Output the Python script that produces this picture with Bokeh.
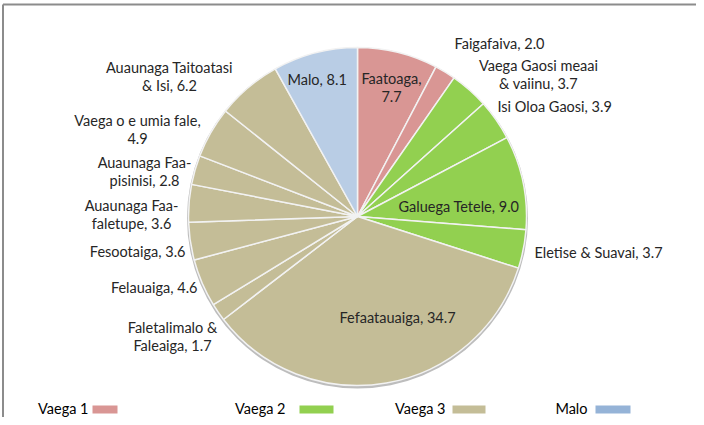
import math
from bokeh.plotting import figure
from bokeh.models import Range1d, ColumnDataSource
from bokeh.core.properties import value
from bokeh.embed import file_html
from bokeh.resources import INLINE

# ---- data ----
categories = ["Faatoaga", "Faigafaiva", "Vaega Gaosi meaai & vaiinu", "Isi Oloa Gaosi",
              "Galuega Tetele", "Eletise & Suavai", "Fefaatauaiga", "Faletalimalo & Faleaiga",
              "Felauaiga", "Fesootaiga", "Auaunaga Faa-faletupe", "Auaunaga Faa-pisinisi",
              "Vaega o e umia fale", "Auaunaga Taitoatasi & Isi", "Malo"]
values = [7.7, 2.0, 3.7, 3.9, 9.0, 3.7, 34.7, 1.7, 4.6, 3.6, 3.6, 2.8, 4.9, 6.2, 8.1]
groups = ["Vaega 1", "Vaega 1", "Vaega 2", "Vaega 2", "Vaega 2", "Vaega 2", "Vaega 3", "Vaega 3",
          "Vaega 3", "Vaega 3", "Vaega 3", "Vaega 3", "Vaega 3", "Vaega 3", "Malo"]
label_texts = ["Faatoaga,\n7.7", "Faigafaiva, 2.0", "Vaega Gaosi meaai\n& vaiinu, 3.7",
               "Isi Oloa Gaosi, 3.9", "Galuega Tetele, 9.0", "Eletise & Suavai, 3.7",
               "Fefaatauaiga, 34.7", "Faletalimalo &\nFaleaiga, 1.7", "Felauaiga, 4.6",
               "Fesootaiga, 3.6", "Auaunaga Faa-\nfaletupe, 3.6", "Auaunaga Faa-\npisinisi, 2.8",
               "Vaega o e umia fale,\n4.9", "Auaunaga Taitoatasi\n& Isi, 6.2", "Malo, 8.1"]
legend_names = ["Vaega 1", "Vaega 2", "Vaega 3", "Malo"]

# ---- styles / layout ----
slice_colors = {"Vaega 1": "#D99694", "Vaega 2": "#92D050", "Vaega 3": "#C4BD97", "Malo": "#B9CDE5"}
legend_colors = {"Vaega 1": "#D99694", "Vaega 2": "#92D050", "Vaega 3": "#C4BD97", "Malo": "#95B3D7"}
FONT = "Lato"
FS = "14.5px"
W, H = 696, 417
def Y(sy):
    return H - sy

cx, cy, R = 357, Y(216), 169

# label layout (screen px: anchor x, center y of first line, align)
label_pos = [(391, 78, "center"), (454, 43, "left"), (538, 65, "center"), (497, 106, "left"),
             (398, 206, "left"), (534, 252, "left"), (339, 317, "left"), (172, 327, "center"),
             (197, 287, "right"), (185, 251, "right"), (131, 205, "center"), (144, 162, "center"),
             (137, 120, "center"), (169, 67, "center"), (287, 79, "left")]
LINE_H = 17.5

p = figure(width=W, height=H, x_range=Range1d(0, W), y_range=Range1d(0, H),
           output_backend="svg", toolbar_location=None, min_border=0)
p.axis.visible = False
p.grid.visible = False
p.outline_line_color = None
p.background_fill_color = "white"

# chart frame (left & top)
p.segment(x0=[2.5, 2.5], y0=[0, Y(4)], x1=[2.5, W], y1=[Y(4), Y(4)], line_color="#8C8C8C", line_width=2)

# pie
total = sum(values)
starts, ends, cols = [], [], []
cum = 0.0
for v, g in zip(values, groups):
    a0 = math.pi / 2 - 2 * math.pi * (cum + v) / total
    a1 = math.pi / 2 - 2 * math.pi * cum / total
    starts.append(a0); ends.append(a1); cols.append(slice_colors[g])
    cum += v
p.circle(x=[cx], y=[cy - 1.5], radius=R + 1.5, fill_color="#BDBDBD", line_color=None)
src = ColumnDataSource(dict(start=starts, end=ends, color=cols, cat=categories, val=values))
p.wedge(x=cx, y=cy, radius=R, start_angle="start", end_angle="end", direction="anticlock",
        fill_color="color", line_color="#F2F2F2", line_width=1.5, source=src)

# labels
tx, ty, tt, ta = [], [], [], []
for txt, (lx, ly, al) in zip(label_texts, label_pos):
    for i, line in enumerate(txt.split("\n")):
        tx.append(lx); ty.append(Y(ly + i * LINE_H)); tt.append(line); ta.append(al)
p.text(x=tx, y=ty, text=tt, text_align=ta, text_baseline="middle",
       text_font=value(FONT), text_font_size=FS, text_color="#262626")

# legend
leg_text_right = [88, 285, 445, 587]
leg_sw_x = [92, 299, 452, 595]
leg_sw_w = [25, 34, 33, 35]
p.text(x=leg_text_right, y=[Y(408)] * 4, text=legend_names, text_align="right", text_baseline="middle",
       text_font=value(FONT), text_font_size="14.5px", text_color="#000000")
p.rect(x=[a + w / 2 for a, w in zip(leg_sw_x, leg_sw_w)], y=[Y(409)] * 4, width=leg_sw_w, height=8,
       fill_color=[legend_colors[n] for n in legend_names], line_color=None)

open("out.html", "w").write(file_html(p, INLINE))
